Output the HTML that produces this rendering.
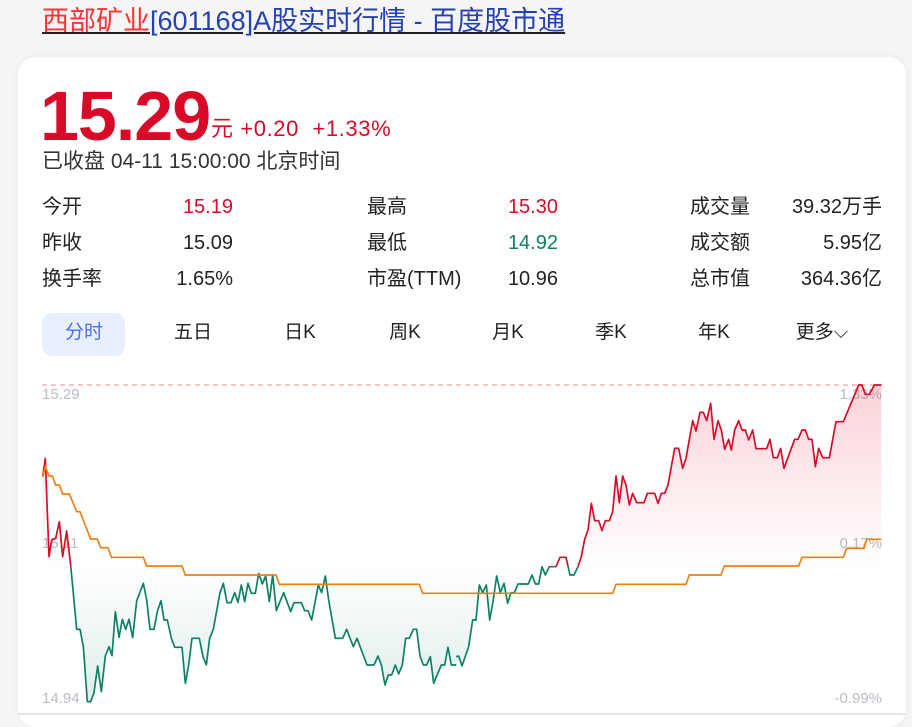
<!DOCTYPE html>
<html><head><meta charset="utf-8"><style>
*{margin:0;padding:0;box-sizing:border-box}
body{width:912px;height:718px;background:#f5f5f6;font-family:"Liberation Sans","Noto Sans CJK SC",sans-serif;position:relative;overflow:hidden;color:#222}
.t{position:absolute;left:42px;top:4px;font-size:27px;line-height:34px;text-decoration:underline;white-space:nowrap}
.card{position:absolute;left:18px;top:57px;width:888px;height:670px;background:#fff;border-radius:18px;box-shadow:0 0 8px rgba(0,0,0,.05)}
.a{position:absolute;white-space:nowrap}
.r{color:#d90a28}.g{color:#0b8063}
.lab{font-size:20px;line-height:24px;color:#222}
.val{font-size:20px;line-height:24px;text-align:right;width:120px}
.tab{position:absolute;top:321px;font-size:19px;line-height:24px;color:#222;transform:translateX(-50%)}
</style></head><body>
<div class="t"><span style="color:#f33">西部矿业</span><span style="color:#2440b3">[601168]A股实时行情 - 百度股市通</span></div>
<div class="card"></div>
<div class="a r" style="left:40px;top:76px;font-size:70px;line-height:80px;font-weight:bold;letter-spacing:-1px">15.29</div>
<div class="a r" style="left:211px;top:115px;font-size:22px;line-height:28px;letter-spacing:0.6px">元 +0.20 &nbsp;+1.33%</div>
<div class="a" style="left:42px;top:149px;font-size:21px;line-height:26px;color:#333">已收盘 04-11 15:00:00 北京时间</div>

<div class="a lab" style="left:42px;top:195px">今开</div><div class="a val r" style="left:113px;top:195px">15.19</div>
<div class="a lab" style="left:42px;top:231px">昨收</div><div class="a val" style="left:113px;top:231px">15.09</div>
<div class="a lab" style="left:42px;top:267px">换手率</div><div class="a val" style="left:113px;top:267px">1.65%</div>
<div class="a lab" style="left:367px;top:195px">最高</div><div class="a val r" style="left:438px;top:195px">15.30</div>
<div class="a lab" style="left:367px;top:231px">最低</div><div class="a val g" style="left:438px;top:231px">14.92</div>
<div class="a lab" style="left:367px;top:267px">市盈(TTM)</div><div class="a val" style="left:438px;top:267px">10.96</div>
<div class="a lab" style="left:690px;top:195px">成交量</div><div class="a val" style="left:762px;top:195px">39.32万手</div>
<div class="a lab" style="left:690px;top:231px">成交额</div><div class="a val" style="left:762px;top:231px">5.95亿</div>
<div class="a lab" style="left:690px;top:267px">总市值</div><div class="a val" style="left:762px;top:267px">364.36亿</div>

<div class="a" style="left:42px;top:313px;width:83px;height:43px;background:#e8f0ff;border-radius:10px"></div>
<div class="tab" style="left:84px;color:#4e6ef2">分时</div>
<div class="tab" style="left:193px">五日</div>
<div class="tab" style="left:300px">日K</div>
<div class="tab" style="left:405px">周K</div>
<div class="tab" style="left:508px">月K</div>
<div class="tab" style="left:611px">季K</div>
<div class="tab" style="left:714px">年K</div>
<div class="tab" style="left:822px">更多⌵</div>

<svg class="a" style="left:0;top:0" width="912" height="718">
<defs>
<linearGradient id="rg" gradientUnits="userSpaceOnUse" x1="0" y1="45" x2="0" y2="590"><stop offset="0" stop-color="#e8203a" stop-opacity=".2"/><stop offset="1" stop-color="#e8203a" stop-opacity="0"/></linearGradient>
<linearGradient id="gg" gradientUnits="userSpaceOnUse" x1="0" y1="590" x2="0" y2="1000"><stop offset="0" stop-color="#0b8063" stop-opacity="0"/><stop offset="1" stop-color="#0b8063" stop-opacity=".14"/></linearGradient>
<clipPath id="cr" clipPathUnits="userSpaceOnUse"><rect x="-100" y="-1000" width="3000" height="1590"/></clipPath>
<clipPath id="cg" clipPathUnits="userSpaceOnUse"><rect x="-100" y="590" width="3000" height="1000"/></clipPath>
</defs>
<line x1="42" y1="385" x2="882" y2="385" stroke="#f4a0a0" stroke-width="1.3" stroke-dasharray="5,4"/>
<line x1="18" y1="714" x2="906" y2="714" stroke="#e6e6e6" stroke-width="2"/>
<g font-size="15" fill="#b8bcc4">
<text x="42" y="399">15.29</text><text x="42" y="548">15.11</text><text x="42" y="703">14.94</text>
<text x="882" y="399" text-anchor="end">1.33%</text><text x="882" y="548" text-anchor="end">0.17%</text><text x="882" y="703" text-anchor="end">-0.99%</text>
</g>
<g transform="translate(0,370) scale(0.33333)">
<polygon points="128,590 128,320 136,265 147,560 155,510 167,505 178,455 188,560 200,483 212,585 230,778 240,778 250,830 262,995 272,995 282,968 293,888 304,965 316,858 327,830 336,857 346,725 357,802 367,748 377,778 387,748 398,803 410,693 430,640 440,690 450,778 462,778 472,725 483,692 492,750 502,750 514,805 524,832 546,832 556,940 566,885 576,805 598,805 609,860 619,885 629,805 640,778 660,668 670,640 681,698 693,698 704,668 714,697 724,645 734,695 744,640 754,670 766,670 776,610 787,642 797,618 808,695 818,615 829,722 851,668 872,725 882,698 904,698 914,722 924,722 935,750 955,645 965,668 976,618 986,690 1006,805 1028,805 1040,778 1060,830 1071,805 1101,885 1122,885 1134,858 1144,885 1155,945 1165,915 1175,915 1186,885 1196,912 1207,885 1217,805 1228,805 1240,778 1250,778 1260,858 1270,885 1280,885 1291,860 1301,940 1324,885 1334,885 1344,832 1354,885 1369,885 1369,590" fill="url(#gg)" clip-path="url(#cg)"/>
<polygon points="128,590 128,320 136,265 147,560 155,510 167,505 178,455 188,560 200,483 212,585 212,590" fill="url(#rg)"/>
<polyline id="ll" points="128,320 136,265 147,560 155,510 167,505 178,455 188,560 200,483 212,585 230,778 240,778 250,830 262,995 272,995 282,968 293,888 304,965 316,858 327,830 336,857 346,725 357,802 367,748 377,778 387,748 398,803 410,693 430,640 440,690 450,778 462,778 472,725 483,692 492,750 502,750 514,805 524,832 546,832 556,940 566,885 576,805 598,805 609,860 619,885 629,805 640,778 660,668 670,640 681,698 693,698 704,668 714,697 724,645 734,695 744,640 754,670 766,670 776,610 787,642 797,618 808,695 818,615 829,722 851,668 872,725 882,698 904,698 914,722 924,722 935,750 955,645 965,668 976,618 986,690 1006,805 1028,805 1040,778 1060,830 1071,805 1101,885 1122,885 1134,858 1144,885 1155,945 1165,915 1175,915 1186,885 1196,912 1207,885 1217,805 1228,805 1240,778 1250,778 1260,858 1270,885 1280,885 1291,860 1301,940 1324,885 1334,885 1344,832 1354,885 1369,885" fill="none" stroke-width="5" stroke-linejoin="round"/>
<use href="#ll" stroke="#d90a28" clip-path="url(#cr)"/>
<use href="#ll" stroke="#0b8063" clip-path="url(#cg)"/>
<polyline points="128,320 136,290 147,318 157,318 167,345 178,345 188,372 208,372 230,425 240,425 272,507 292,507 302,533 324,533 334,562 430,562 440,588 546,588 556,615 828,615 838,643 1258,643 1268,670 1369,670" fill="none" stroke="#f07f12" stroke-width="5"/>
</g>
<g transform="translate(456,370) scale(0.33333)">
<polyline id="rl" points="0,860 8,858 18,888 38,830 50,750 60,750 70,645 80,668 91,645 101,750 111,695 122,618 133,668 144,640 155,700 165,668 175,668 186,642 217,642 228,615 238,642 248,642 258,590 268,615 280,590 300,590 312,562 330,562 342,615 354,615 366,590 376,560 386,508 396,480 406,400 416,452 428,452 438,482 448,452 460,452 470,425 480,318 490,398 500,318 510,345 520,405 530,370 542,398 564,398 574,370 596,370 606,400 616,370 626,370 636,345 656,235 668,235 680,295 690,265 710,152 720,183 732,127 742,127 752,152 764,100 774,208 786,152 796,180 806,238 818,208 826,240 836,180 848,152 858,180 868,180 878,210 890,180 900,236 932,236 942,208 952,263 964,263 974,235 984,295 1016,208 1026,208 1038,180 1048,180 1058,208 1068,208 1078,290 1088,235 1100,263 1120,263 1140,155 1162,155 1208,45 1218,45 1228,73 1240,73 1255,45 1276,45" fill="none" stroke-width="5" stroke-linejoin="round"/>
<polygon points="0,590 0,860 8,858 18,888 38,830 50,750 60,750 70,645 80,668 91,645 101,750 111,695 122,618 133,668 144,640 155,700 165,668 175,668 186,642 217,642 228,615 238,642 248,642 258,590 268,615 280,590 300,590 312,562 330,562 342,615 354,615 366,590 376,560 386,508 396,480 406,400 416,452 428,452 438,482 448,452 460,452 470,425 480,318 490,398 500,318 510,345 520,405 530,370 542,398 564,398 574,370 596,370 606,400 616,370 626,370 636,345 656,235 668,235 680,295 690,265 710,152 720,183 732,127 742,127 752,152 764,100 774,208 786,152 796,180 806,238 818,208 826,240 836,180 848,152 858,180 868,180 878,210 890,180 900,236 932,236 942,208 952,263 964,263 974,235 984,295 1016,208 1026,208 1038,180 1048,180 1058,208 1068,208 1078,290 1088,235 1100,263 1120,263 1140,155 1162,155 1208,45 1218,45 1228,73 1240,73 1255,45 1276,45 1276,590" fill="url(#rg)" clip-path="url(#cr)"/>
<polygon points="0,590 0,860 8,858 18,888 38,830 50,750 60,750 70,645 80,668 91,645 101,750 111,695 122,618 133,668 144,640 155,700 165,668 175,668 186,642 217,642 228,615 238,642 248,642 258,590 258,590" fill="url(#gg)"/>
<use href="#rl" stroke="#d90a28" clip-path="url(#cr)"/>
<use href="#rl" stroke="#0b8063" clip-path="url(#cg)"/>
<polyline points="0,670 470,670 480,643 690,643 700,615 795,615 805,588 1028,588 1038,562 1162,562 1172,535 1224,535 1232,508 1276,508" fill="none" stroke="#f07f12" stroke-width="5"/>
</g>
</svg>
</body></html>
